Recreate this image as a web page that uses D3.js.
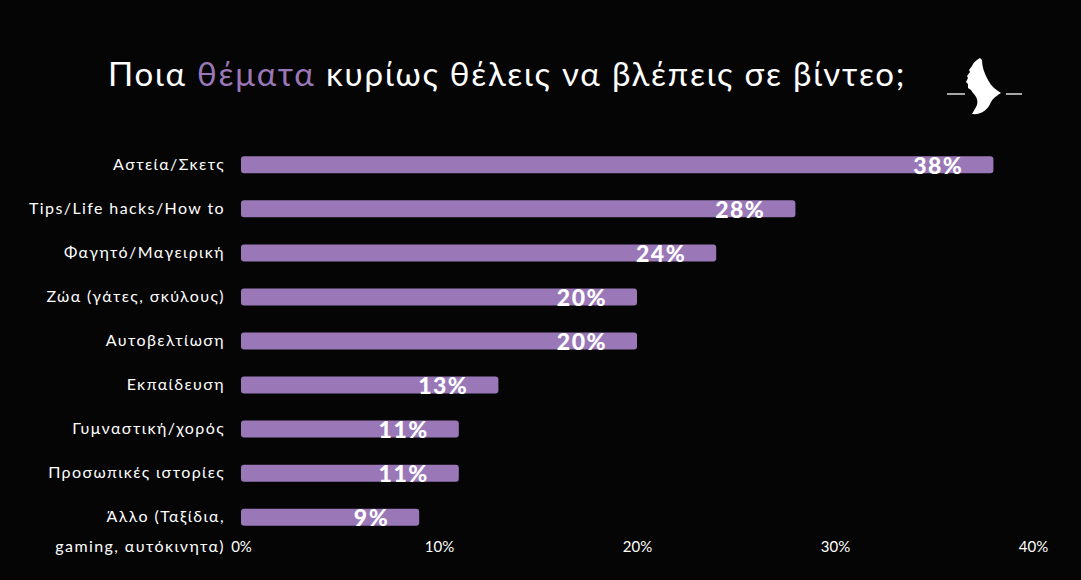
<!DOCTYPE html>
<html>
<head>
<meta charset="utf-8">
<script src="https://cdn.jsdelivr.net/npm/d3@7"></script>
<style>
  html, body { margin: 0; padding: 0; background: #050505; }
  svg { display: block; }
</style>
</head>
<body>
<div id="chart"></div>
<script>
// δεδομένα
var categories = [
    "Αστεία/Σκετς",
    "Tips/Life hacks/How to",
    "Φαγητό/Μαγειρική",
    "Ζώα (γάτες, σκύλους)",
    "Αυτοβελτίωση",
    "Εκπαίδευση",
    "Γυμναστική/χορός",
    "Προσωπικές ιστορίες",
    "Άλλο (Ταξίδια,|gaming, αυτόκινητα)"
];
var values = [38, 28, 24, 20, 20, 13, 11, 11, 9];
var tickValues = [0, 10, 20, 30, 40];

var width = 1081, height = 580;
var purple = "#9a78b8";

var svg = d3.select("#chart").append("svg")
    .attr("width", width)
    .attr("height", height);

svg.append("rect")
    .attr("width", width)
    .attr("height", height)
    .attr("fill", "#050505");

// τίτλος
var title = svg.append("text")
    .attr("x", 108)
    .attr("y", 86)
    .attr("fill", "#fff")
    .style("font-family", "Lato, 'Open Sans', sans-serif")
    .style("font-size", "33px")
    .style("letter-spacing", "1.8px");
title.append("tspan").text("Ποια ");
title.append("tspan").attr("fill", purple).text("θέματα");
title.append("tspan").text(" κυρίως θέλεις να βλέπεις σε βίντεο;");

// λογότυπο
var logo = svg.append("g");
logo.append("line").attr("x1", 947).attr("x2", 965).attr("y1", 94).attr("y2", 94)
    .attr("stroke", "#ddd").attr("stroke-width", 1.5);
logo.append("line").attr("x1", 1006).attr("x2", 1022).attr("y1", 94).attr("y2", 94)
    .attr("stroke", "#ddd").attr("stroke-width", 1.5);
logo.append("path")
    .attr("d", "M980,58 C976,60 973,63 972,66 L969,70 L970,72 L967,76 L968,78 L966,82 " +
        "L968,84 L968,88 L971,90 L973,93 C977,97 979,102 976,107 L972,114 " +
        "C981,115 988,110 991,102 C994,97 998,95 1001,93 " +
        "C996,90 991,86 988,80 C984,73 982,66 982,60 Z")
    .attr("fill", "#fff");

// κλίμακες
var x = d3.scaleLinear().domain([0, 40]).range([241, 1033]);
var y = d3.scaleBand().domain(categories).range([143, 539]).paddingInner(0.61).paddingOuter(0.3);

var bars = svg.append("g");
bars.selectAll("rect")
    .data(values)
    .enter().append("rect")
    .attr("x", x(0))
    .attr("y", function(d, i) { return y(categories[i]) + y.bandwidth() / 2 - 8.5; })
    .attr("width", function(d) { return x(d) - x(0); })
    .attr("height", 17)
    .attr("rx", 3)
    .attr("fill", purple);

bars.selectAll("text.val")
    .data(values)
    .enter().append("text")
    .attr("class", "val")
    .attr("x", function(d) { return x(d) - 30; })
    .attr("y", function(d, i) { return y(categories[i]) + y.bandwidth() / 2 + 9; })
    .attr("text-anchor", "end")
    .attr("fill", "#fff")
    .style("font-family", "Lato, sans-serif")
    .style("font-weight", "900")
    .style("font-size", "23px")
    .style("letter-spacing", "1.5px")
    .text(function(d) { return d + "%"; });

// ετικέτες κατηγοριών
var labels = svg.append("g");
categories.forEach(function(c, i) {
    var parts = c.split("|");
    var cy = y(c) + y.bandwidth() / 2;
    var t = labels.append("text")
        .attr("x", 225)
        .attr("y", cy + 5)
        .attr("text-anchor", "end")
        .attr("fill", "#fff")
        .style("font-family", "Lato, sans-serif")
        .style("font-size", "16px")
        .style("letter-spacing", "1.4px");
    parts.forEach(function(p, j) {
        t.append("tspan").attr("x", 225).attr("dy", j === 0 ? 0 : 30).text(p);
    });
});

// άξονας x
var axis = svg.append("g")
    .attr("transform", "translate(0,552)")
    .call(d3.axisBottom(x).tickValues(tickValues).tickSize(0).tickFormat(function(d) { return d + "%"; }));
axis.select(".domain").remove();
axis.selectAll("text")
    .attr("y", 0)
    .attr("dy", 0)
    .attr("fill", "#fff")
    .style("font-family", "Lato, sans-serif")
    .style("font-size", "15px");
</script>
</body>
</html>
